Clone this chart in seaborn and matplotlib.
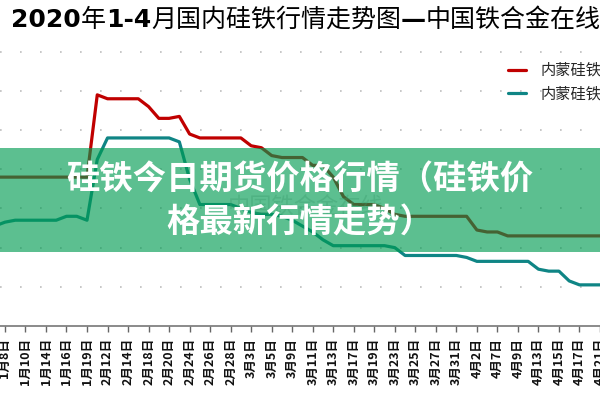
import matplotlib
matplotlib.use('Agg')
import matplotlib.pyplot as plt
from matplotlib.patches import Rectangle
import pandas as pd
import seaborn as sns

# даты торговых дней (подпись у каждой второй)
dates = ['1月7日', '1月8日', '1月9日', '1月10日', '1月13日', '1月14日', '1月15日', '1月16日', '1月17日',
         '1月19日', '2月10日', '2月12日', '2月13日', '2月14日', '2月17日', '2月18日', '2月19日', '2月20日',
         '2月21日', '2月24日', '2月25日', '2月26日', '2月27日', '2月28日', '3月2日', '3月3日', '3月4日',
         '3月5日', '3月6日', '3月9日', '3月10日', '3月11日', '3月12日', '3月13日', '3月16日', '3月17日',
         '3月18日', '3月19日', '3月20日', '3月23日', '3月24日', '3月25日', '3月26日', '3月27日', '3月30日',
         '3月31日', '4月1日', '4月2日', '4月3日', '4月7日', '4月8日', '4月9日', '4月10日', '4月13日',
         '4月14日', '4月15日', '4月16日', '4月17日', '4月20日', '4月21日']

red_name = '内蒙硅铁75#'
red_price = [5800] * 10 + [6010] + [6000] * 4 + [5980, 5950, 5950, 5955, 5910] + [5900] * 5 + \
            [5880, 5875, 5855] + [5850] * 3 + [5830] * 2 + [5800, 5750] + [5730] * 3 + [5720, 5705] + \
            [5700] * 7 + [5665] + [5660] * 2 + [5650] + [5650] * 9

teal_name = '内蒙硅铁72#'
teal_price = [5675, 5685] + [5690] * 4 + [5690, 5700, 5700, 5690, 5845, 5900] + [5900] * 6 + \
             [5890, 5795, 5730, 5730, 5730, 5730, 5720, 5710, 5705, 5705, 5700, 5690, 5675, 5660, 5640, 5625] + \
             [5625] * 5 + [5620, 5600] + [5600] * 5 + [5595, 5585] + [5585] * 5 + \
             [5565, 5560, 5560, 5535, 5525, 5525, 5525]

grid_values = [5520, 5620, 5720, 5820, 5920, 6020, 6120]

title_parts = [('2020', 'bold'), ('年', 'normal'), ('1-4', 'bold'), ('月国内硅铁行情走势图', 'normal'),
               ('—', 'bold'), ('中国铁合金在线', 'normal')]
banner_lines = ['硅铁今日期货价格行情（硅铁价', '格最新行情走势）']

sns.set_theme(style='white')
plt.rcParams['font.family'] = ['Noto Sans CJK SC', 'DejaVu Sans']

df = pd.DataFrame({
    'idx': list(range(len(dates))) * 2,
    'price': red_price + teal_price,
    'series': [red_name] * len(dates) + [teal_name] * len(dates),
})

fig = plt.figure(figsize=(6, 4), dpi=100)
ax = fig.add_axes([0, 0.185, 1, 0.715])

sns.lineplot(data=df, x='idx', y='price', hue='series', sort=False, ax=ax,
             palette={red_name: '#c00000', teal_name: '#0f8585'}, linewidth=2.3,
             solid_joinstyle='round', solid_capstyle='round')

ax.set_xlim(0.52, 58.2)
ax.set_ylim(5420, 6150)
ax.set_yticks(grid_values)
ax.set_yticklabels([])
ax.tick_params(axis='y', length=0)
ax.yaxis.grid(True, color='#bdbdbd', linestyle=(0, (1, 11)), linewidth=1.2)
ax.set_axisbelow(True)

ticks = list(range(1, len(dates), 2))
ax.set_xticks(ticks)
ax.set_xticklabels([dates[i] for i in ticks], rotation=90, fontsize=9, fontweight='bold', color='#111111')
ax.tick_params(axis='x', bottom=True, direction='out', length=4.5, width=1, color='#666666', pad=4)
ax.set_xlabel('')
ax.set_ylabel('')

for side in ['left', 'right', 'top']:
    ax.spines[side].set_visible(False)
ax.spines['bottom'].set_color('#777777')
ax.spines['bottom'].set_linewidth(1.2)

handles, labels = ax.get_legend_handles_labels()
ax.get_legend().remove()
fig.legend(handles, labels, loc='upper left', bbox_to_anchor=(508 / 600, 1 - 62 / 400), frameon=False,
           fontsize=11, handlelength=1.15, handletextpad=0.95, labelspacing=0.4, borderpad=0,
           borderaxespad=0)

# заголовок из кусков разного начертания
prev = None
for text, weight in title_parts:
    family = ['DejaVu Sans'] if weight == 'bold' else ['Noto Sans CJK SC', 'DejaVu Sans']
    if prev is None:
        prev = fig.text(11 / 600, 1 - 27 / 400, text, fontsize=18, fontweight=weight, family=family,
                        va='baseline', ha='left', color='black')
    else:
        prev = ax.annotate(text, xy=(1, 1 - 27 / 400), xycoords=(prev, 'figure fraction'),
                           fontsize=18, fontweight=weight, family=family, va='baseline', ha='left',
                           color='black')

# водяной знак и зелёная плашка поверх графика
fig.text(306 / 600, 1 - 207 / 400, '中国铁合金在线', fontsize=16, color='#9a9a9a', alpha=0.35,
         ha='center', va='center', zorder=4)
fig.add_artist(Rectangle((0, 1 - 252 / 400), 1, 104 / 400, transform=fig.transFigure,
                         facecolor=(0, 155 / 255, 81 / 255), alpha=0.64, edgecolor='none', zorder=5))
fig.text(0.5, 1 - 180 / 400, banner_lines[0], fontsize=24, fontweight='bold', color='white',
         ha='center', va='center', zorder=6)
fig.text(0.5, 1 - 223 / 400, banner_lines[1], fontsize=24, fontweight='bold', color='white',
         ha='center', va='center', zorder=6)

fig.savefig('out.png', dpi=100)
